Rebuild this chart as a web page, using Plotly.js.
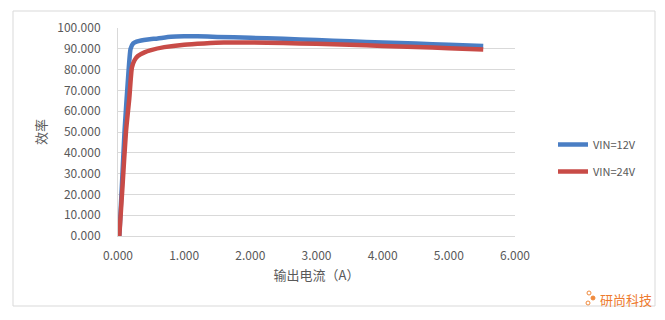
<!DOCTYPE html>
<html><head><meta charset="utf-8">
<script src="https://cdn.plot.ly/plotly-3.0.1.min.js"></script>
<style>html,body{margin:0;padding:0;background:#fff;}#chart{width:665px;height:320px;}</style>
</head><body><div id="chart"></div>
<script>
const seriesNames = ["VIN=12V", "VIN=24V"];
const currentA12 = [0.02, 0.06, 0.10, 0.15, 0.19, 0.23, 0.28, 0.35, 0.45, 0.6, 0.8, 1.0, 1.2, 1.5, 2.0, 2.5, 3.0, 3.5, 4.0, 4.5, 5.0, 5.52];
const eff12 =     [0, 25, 51, 75, 90, 92.6, 93.4, 94.0, 94.5, 95.0, 95.8, 96.0, 96.0, 95.7, 95.3, 94.8, 94.2, 93.6, 93.0, 92.5, 91.9, 91.4];
const currentA24 = [0.02, 0.07, 0.12, 0.17, 0.21, 0.25, 0.3, 0.4, 0.5, 0.7, 1.0, 1.3, 1.6, 2.0, 2.5, 3.0, 3.5, 4.0, 4.5, 5.0, 5.52];
const eff24 =     [0, 25, 50, 66, 81, 84.5, 86.5, 88.3, 89.4, 90.8, 92.0, 92.6, 93.0, 93.0, 92.8, 92.4, 92.0, 91.4, 90.9, 90.3, 89.7];
const xTickVals = [0, 1, 2, 3, 4, 5, 6];
const yTickVals = [0, 10, 20, 30, 40, 50, 60, 70, 80, 90, 100];

const tickFont = {family: "Noto Sans CJK SC, Noto Sans, sans-serif", size: 12, color: "#595959"};
const traces = [
  {x: currentA12, y: eff12, name: seriesNames[0], mode: "lines", legendgroup: "a",
   line: {color: "#4A7EC4", width: 4.5, shape: "spline", smoothing: 0.5}},
  {x: currentA24, y: eff24, name: seriesNames[1], mode: "lines", legendgroup: "b",
   line: {color: "#C84B47", width: 4.5, shape: "spline", smoothing: 0.5}}
];
const W = 397, H = 208, L = 118, T = 28;
function px(x){return (x - L)/W;}
function py(y){return (T + H - y)/H;}
const layout = {
  width: 665, height: 320,
  margin: {l: L, r: 665 - L - W, t: T, b: 320 - T - H},
  paper_bgcolor: "#fff", plot_bgcolor: "#fff",
  showlegend: true,
  legend: {x: px(553), y: py(130), xanchor: "left", yanchor: "top", traceorder: "grouped", tracegroupgap: 8,
    font: {family: "Noto Sans CJK SC, Noto Sans, sans-serif", size: 11, color: "#595959"}, itemwidth: 30, bgcolor: "rgba(0,0,0,0)"},
  xaxis: {range: [0, 6], tickvals: xTickVals, tickformat: ".3f", showgrid: false, zeroline: false,
    showline: true, linecolor: "#d9d9d9", linewidth: 1, ticks: "", tickfont: tickFont, ticklabelstandoff: 9,
    title: {text: "输出电流（A）", font: {family: "Noto Sans CJK SC, sans-serif", size: 13, color: "#595959"}, standoff: 8}},
  yaxis: {range: [0, 100], tickvals: yTickVals, tickformat: ".3f", showgrid: true, gridcolor: "#d9d9d9", gridwidth: 1,
    zeroline: false, showline: true, linecolor: "#d9d9d9", ticks: "", tickfont: tickFont, ticklabelstandoff: 14,
    title: {text: "效率", font: {family: "Noto Sans CJK SC, sans-serif", size: 13, color: "#595959"}, standoff: 7}},
  shapes: [
    {type: "rect", xref: "paper", yref: "paper", x0: px(13), x1: px(655), y0: py(306), y1: py(11),
     line: {color: "#d9d9d9", width: 1}, fillcolor: "rgba(0,0,0,0)", layer: "below"},
    {type: "circle", xref: "paper", yref: "paper", x0: px(587), x1: px(591), y0: py(295), y1: py(291), line: {color: "#F08A3C", width: 1}},
    {type: "circle", xref: "paper", yref: "paper", x0: px(591), x1: px(595), y0: py(300), y1: py(296), fillcolor: "#F08A3C", line: {color: "#F08A3C", width: 1}},
    {type: "circle", xref: "paper", yref: "paper", x0: px(586), x1: px(590), y0: py(305), y1: py(301), line: {color: "#F08A3C", width: 1}}
  ],
  annotations: [
    {text: "研尚科技", xref: "paper", yref: "paper", x: px(598), y: py(299), xanchor: "left", yanchor: "middle",
     showarrow: false, font: {family: "Noto Sans CJK SC, sans-serif", size: 13, color: "#EE7A2E"}}
  ]
};
Plotly.newPlot("chart", traces, layout, {displayModeBar: false, staticPlot: true});
</script></body></html>
